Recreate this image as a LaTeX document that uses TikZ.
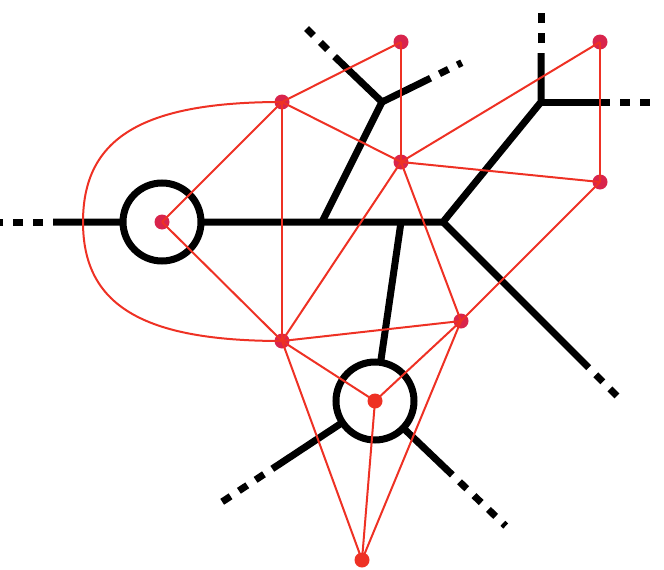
\documentclass[tikz,border=0pt]{standalone}
\definecolor{edgered}{HTML}{EE3124}
\definecolor{vcrim}{HTML}{D8244C}
\begin{document}
\begin{tikzpicture}[x=1pt,y=-1pt,
  road/.style={line width=7pt, black, line join=round},
  roaddash/.style={line width=7pt, black, dash pattern=on 10pt off 10pt, dash phase=10pt},
  ring/.style={line width=7pt, draw=black, fill=white},
  edge/.style={draw=edgered, line width=2pt},
  vtx/.style={circle, fill=vcrim, inner sep=0pt, minimum size=15pt},
  vtxb/.style={vtx, fill=edgered}]
\useasboundingbox (0,0) rectangle (664,570);
% road network
\coordinate (cA) at (162,222);
\coordinate (cK) at (443,222);
\coordinate (cL) at (322,222);
\coordinate (cM) at (382,102);
\coordinate (cN) at (401,222);
\coordinate (cQ) at (541,102);
\coordinate (cI) at (375,401);
\coordinate (p1) at (53,222);     \coordinate (e1) at (0,222);
\coordinate (p2) at (334.6,56.6); \coordinate (e2) at (306.5,28.5);
\coordinate (p3) at (430.5,78.2); \coordinate (e3) at (461.8,62.7);
\coordinate (p4) at (541,53);     \coordinate (e4) at (541,13);
\coordinate (p5) at (610,102);    \coordinate (e5) at (650,102);
\coordinate (p6) at (588.7,367.7);\coordinate (e6) at (617,396);
\coordinate (p7) at (272.3,468.8);\coordinate (e7) at (222.2,501.8);
\coordinate (p8) at (452.3,474.9);\coordinate (e8) at (505.7,526);
\draw[road] (p1) -- (cK) -- (cQ) -- (p4);
\draw[road] (cQ) -- (p5);
\draw[road] (cK) -- (p6);
\draw[road] (cL) -- (cM) -- (p2);
\draw[road] (cM) -- (p3);
\draw[road] (cN) -- (cI);
\draw[road] (cI) -- (p7);
\draw[road] (cI) -- (p8);
\draw[roaddash] (p1) -- (e1);
\draw[roaddash] (p2) -- (e2);
\draw[roaddash] (p3) -- (e3);
\draw[roaddash] (p4) -- (e4);
\draw[roaddash] (p5) -- (e5);
\draw[roaddash] (p6) -- (e6);
\draw[roaddash] (p7) -- (e7);
\draw[roaddash] (p8) -- (e8);
\draw[ring] (cA) circle[radius=39pt];
\draw[ring] (cI) circle[radius=39pt];
% vertices
\node[vtx] (A) at (162,222) {};
\node[vtx] (B) at (282,102) {};
\node[vtx] (C) at (401,42) {};
\node[vtx] (D) at (401,162) {};
\node[vtx] (E) at (600,42) {};
\node[vtx] (F) at (600,182) {};
\node[vtx] (G) at (461,321) {};
\node[vtx] (H) at (282,341) {};
\node[vtxb] (I) at (375,401) {};
\node[vtxb] (J) at (362,560) {};
% dual edges
\foreach \u/\v in {A/B,A/H,B/C,B/D,B/H,C/D,D/E,D/F,D/H,D/G,E/F,F/G,H/G,H/I,G/I,H/J,I/J,G/J}
  \draw[edge] (\u.center) -- (\v.center);
\draw[edge] (B.center) .. controls (142,102) and (83,138) .. (83,222)
  .. controls (83,305) and (142,341) .. (H.center);
\end{tikzpicture}
\end{document}
